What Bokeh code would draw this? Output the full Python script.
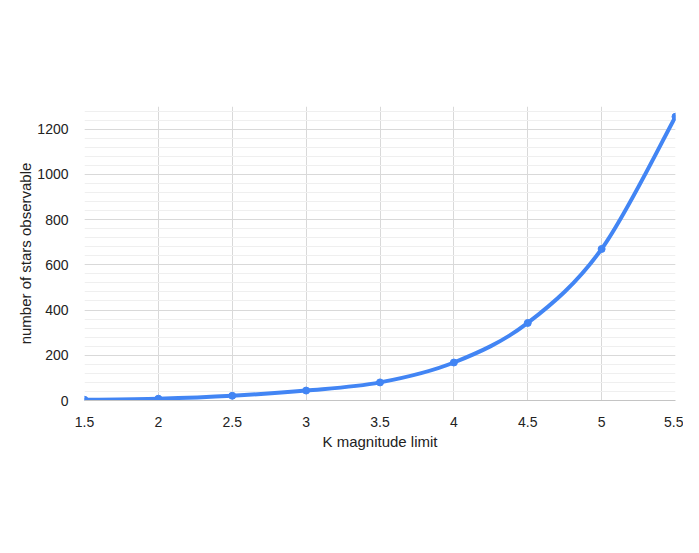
from bokeh.plotting import figure
from bokeh.models import Range1d, SingleIntervalTicker, NumeralTickFormatter, ColumnDataSource
from bokeh.embed import file_html
from bokeh.resources import INLINE

# Data
k_mag = [1.5, 2.0, 2.5, 3.0, 3.5, 4.0, 4.5, 5.0, 5.5]
stars = [3, 8, 21, 44, 80, 168, 343, 670, 1255]

x_label = "K magnitude limit"
y_label = "number of stars observable"

BLUE = "#4285F4"
FONT = "Liberation Sans"

p = figure(width=683, height=537, output_backend="svg", toolbar_location=None,
           x_range=Range1d(1.5, 5.5), y_range=Range1d(0, 1300),
           min_border_left=84, min_border_right=8, min_border_top=106,
           min_border_bottom=137)
p.outline_line_color = None
p.background_fill_color = "white"
p.border_fill_color = "white"

# Smooth curve through the data: Catmull-Rom segments drawn as cubic Beziers
n = len(k_mag)
x0, y0, x1, y1, cx0, cy0, cx1, cy1 = [], [], [], [], [], [], [], []
for i in range(n - 1):
    xm = k_mag[i - 1] if i > 0 else k_mag[i]
    ym = stars[i - 1] if i > 0 else stars[i]
    xp = k_mag[i + 2] if i + 2 < n else k_mag[i + 1]
    yp = stars[i + 2] if i + 2 < n else stars[i + 1]
    x0.append(k_mag[i]); y0.append(stars[i])
    x1.append(k_mag[i + 1]); y1.append(stars[i + 1])
    cx0.append(k_mag[i] + (k_mag[i + 1] - xm) / 6)
    cy0.append(stars[i] + (stars[i + 1] - ym) / 6)
    cx1.append(k_mag[i + 1] - (xp - k_mag[i]) / 6)
    cy1.append(stars[i + 1] - (yp - stars[i]) / 6)

src = ColumnDataSource(dict(x0=x0, y0=y0, x1=x1, y1=y1, cx0=cx0, cy0=cy0, cx1=cx1, cy1=cy1))
p.bezier(x0="x0", y0="y0", x1="x1", y1="y1", cx0="cx0", cy0="cy0", cx1="cx1", cy1="cy1",
         source=src, line_color=BLUE, line_width=4, line_cap="round")
p.scatter(k_mag, stars, size=7, color=BLUE)

# Axes
p.xaxis.ticker = SingleIntervalTicker(interval=0.5, num_minor_ticks=0)
p.yaxis.ticker = SingleIntervalTicker(interval=200, num_minor_ticks=5)
p.xaxis.formatter = NumeralTickFormatter(format="0.[0]")
p.yaxis.formatter = NumeralTickFormatter(format="0")

for ax in (p.xaxis[0], p.yaxis[0]):
    ax.major_tick_line_color = None
    ax.minor_tick_line_color = None
    ax.major_label_text_font = FONT
    ax.major_label_text_font_size = "14px"
    ax.major_label_text_color = "#222222"
    ax.axis_label_text_font = FONT
    ax.axis_label_text_font_size = "15px"
    ax.axis_label_text_font_style = "normal"
    ax.axis_label_text_color = "#222222"

p.xaxis.axis_label = x_label
p.yaxis.axis_label = y_label
p.xaxis.axis_line_color = "#c4c4c4"
p.yaxis.axis_line_color = None
p.xaxis.major_label_standoff = 10
p.xaxis.axis_label_standoff = 3
p.yaxis.major_label_standoff = 10
p.yaxis.axis_label_standoff = 0

p.xgrid.grid_line_color = "#d9d9d9"
p.ygrid.grid_line_color = "#d9d9d9"
p.ygrid.minor_grid_line_color = "#efefef"

open("out.html", "w").write(file_html(p, INLINE))
